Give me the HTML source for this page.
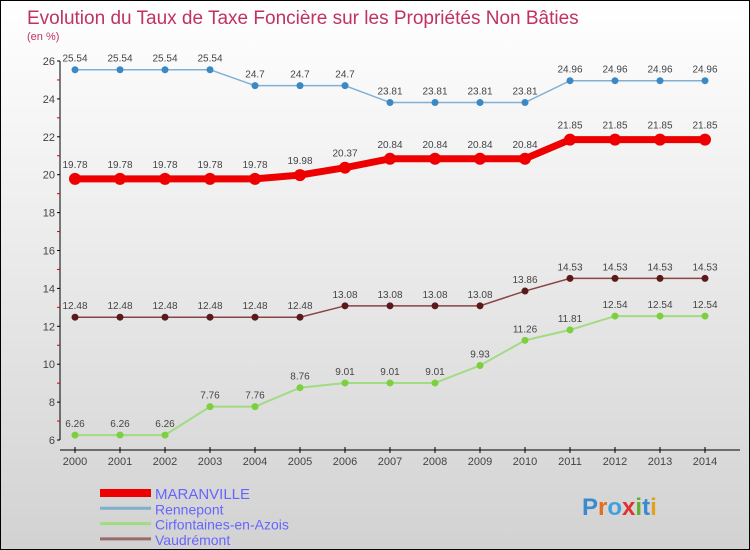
<!DOCTYPE html>
<html><head><meta charset="utf-8"><style>
body{margin:0;width:750px;height:550px;overflow:hidden}
#c{position:absolute;left:0;top:0;width:748px;height:548px;border:1px solid #000;background:linear-gradient(#ffffff,#f2f2f2 30%,#d2d2d2)}
svg text{font-family:"Liberation Sans",sans-serif}
</style></head><body>
<div id="c">
<svg id="s" width="750" height="550" style="position:absolute;left:-1px;top:-1px">
<text x="27" y="24" font-size="19" fill="#c0335f">Evolution du Taux de Taxe Foncière sur les Propriétés Non Bâties</text>
<text x="27" y="40" font-size="11" fill="#c0335f">(en %)</text>
</svg></div>
<script>
const years=[2000,2001,2002,2003,2004,2005,2006,2007,2008,2009,2010,2011,2012,2013,2014];
const maranville=[19.78,19.78,19.78,19.78,19.78,19.98,20.37,20.84,20.84,20.84,20.84,21.85,21.85,21.85,21.85];
const rennepont=[25.54,25.54,25.54,25.54,24.7,24.7,24.7,23.81,23.81,23.81,23.81,24.96,24.96,24.96,24.96];
const cirfontaines=[6.26,6.26,6.26,7.76,7.76,8.76,9.01,9.01,9.01,9.93,11.26,11.81,12.54,12.54,12.54];
const vaudremont=[12.48,12.48,12.48,12.48,12.48,12.48,13.08,13.08,13.08,13.08,13.86,14.53,14.53,14.53,14.53];
const yTicks=[6,8,10,12,14,16,18,20,22,24,26];
const labels=["MARANVILLE","Rennepont","Cirfontaines-en-Azois","Vaudrémont"];
const NS="http://www.w3.org/2000/svg",s=document.getElementById('s');
const X=i=>75+i*45, Y=v=>440-(v-6)*18.95;
function el(t,a,txt){const e=document.createElementNS(NS,t);for(const k in a)e.setAttribute(k,a[k]);if(txt!==undefined)e.textContent=txt;s.appendChild(e);return e;}
let e=el('line',{x1:60,y1:Y(26),x2:60,y2:Y(6),stroke:'#000'});


e=el('line',{x1:60,y1:450,x2:740,y2:450,stroke:'#000'});


yTicks.forEach(v=>{el('line',{x1:57,x2:60,y1:Y(v),y2:Y(v),stroke:'#000'});if(v<26)el('line',{x1:57,x2:60,y1:Y(v+1),y2:Y(v+1),stroke:'#d00'});
 const t=el('text',{x:55,y:Y(v)+4,'font-size':11,fill:'#444','text-anchor':'end'},v);
 
 });
years.forEach((y,i)=>{el('line',{x1:X(i),x2:X(i),y1:447,y2:453,stroke:'#000'});
 const t=el('text',{x:X(i),y:465,'font-size':11,fill:'#444','text-anchor':'middle'},y);
 
 });
function series(d,col,w,r,name,fill){
 const p=el('polyline',{points:d.map((v,i)=>X(i)+','+Y(v)).join(' '),fill:'none',stroke:col,'stroke-width':w});
 
 
 d.forEach((v,i)=>{const c=el('circle',{cx:X(i),cy:Y(v),r:r,fill:fill});
  
  
  const t=el('text',{x:X(i),y:Y(v)-8-(r>4?3:0),'font-size':10,fill:'#444','text-anchor':'middle'},String(v));
  
  });
}
series(rennepont,'#7fb0d8',1.5,3.5,'rennepont','#3a88c4');
series(vaudremont,'#8a4444',1.5,3.5,'vaudremont','#5a1a1a');
series(cirfontaines,'#a0dc80',2,3.5,'cirfontaines','#7cd040');
series(maranville,'#e00',7,6,'maranville','#e00');
const lc=['#e00','#80aed0','#a0dc80','#9a6a6a'],lw=[8,3,3,3];
labels.forEach((l,i)=>{const y=493+i*15.3;
 const ln=el('line',{x1:100,x2:151,y1:y,y2:y,stroke:lc[i],'stroke-width':lw[i]});
 
 
 const t=el('text',{x:155,y:y+6,'font-size':i==0?15:14,fill:'#6666ff'},l);
 
 });
const lg=el('text',{x:582,y:515,'font-size':24,'font-weight':'bold',fill:'#3a8ad0'});


const lcol=['#3a8ad0','#e07020','#40a0e0','#e03030','#60b030','#3a8ad0','#e0a020'];
'Proxiti'.split('').forEach((ch,i)=>{const ts=document.createElementNS(NS,'tspan');ts.setAttribute('fill',lcol[i]);ts.textContent=ch;lg.appendChild(ts);});
</script>
</body></html>
